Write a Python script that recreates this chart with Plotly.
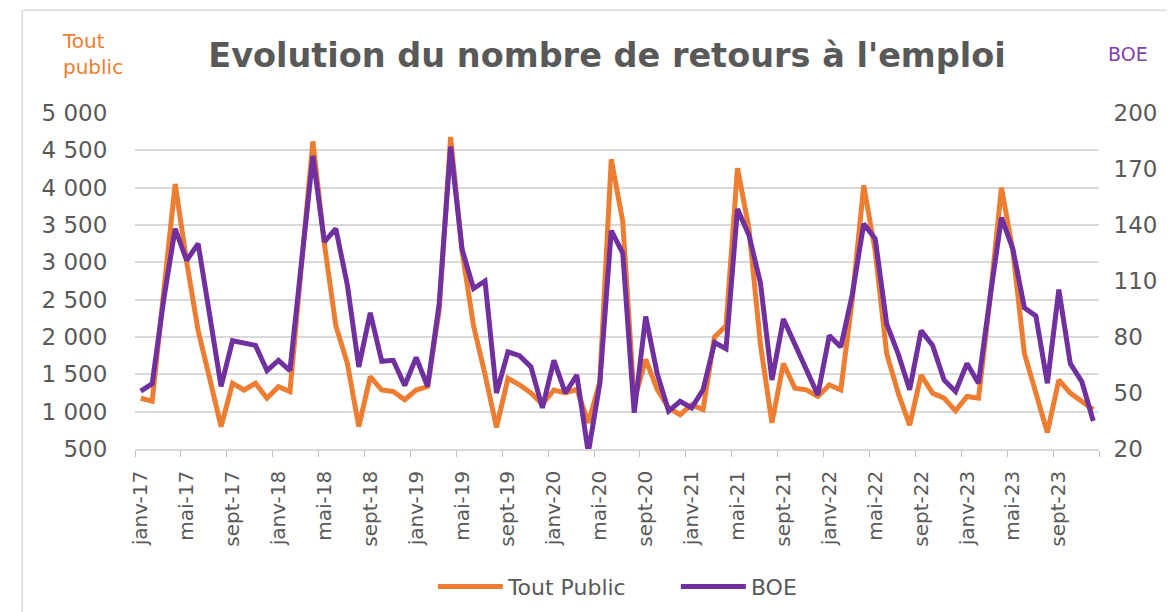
import plotly.graph_objects as go

months = ["janv", "févr", "mars", "avr", "mai", "juin", "juil", "août", "sept", "oct", "nov", "déc"]
years = ["17", "18", "19", "20", "21", "22", "23"]
categories = [f"{m}-{y}" for y in years for m in months]

tout_public = [
    1180, 1140, 2600, 4050, 3010, 2085, 1450, 800, 1380, 1290, 1380, 1180,
    1335, 1270, 2950, 4620, 3250, 2150, 1650, 800, 1470, 1290, 1270, 1160,
    1290, 1335, 2350, 4680, 3150, 2150, 1500, 790, 1447, 1360, 1250, 1100,
    1290, 1250, 1300, 850, 1400, 4380, 3550, 1150, 1700, 1300, 1050, 960,
    1090, 1030, 2000, 2150, 4260, 3450, 1900, 850, 1645, 1315, 1292, 1204,
    1358, 1292, 2500, 4030, 3150, 1780, 1250, 820, 1490, 1248, 1182, 1010,
    1204, 1182, 2500, 4000, 3150, 1780, 1250, 720, 1424, 1248, 1138, 1028,
]

boe = [
    51, 55, 100, 138, 121, 130, 92, 53.5, 78, 77, 75.5, 62,
    67.5, 62, 119, 177, 131, 138, 108, 64, 93, 67, 67.5, 54,
    69, 53.5, 97.5, 182, 127, 106, 110, 50, 72, 70, 64, 42,
    67.5, 50, 59.6, 18, 55, 137, 125, 39.4, 91, 60.5, 40.3, 45.5,
    42, 51.7, 77, 73.7, 148.6, 134.5, 109, 57, 89.6, 76, 62.6, 49,
    80.8, 74.6, 102.8, 140.6, 132.7, 87, 71, 51.7, 83.4, 75.5, 57, 50.8,
    65.8, 55.2, 101, 144, 127, 95.7, 91.3, 55.2, 105.4, 65.8, 56.1, 35,
]

tick_idx = list(range(0, len(categories), 4))
tick_labels = [categories[i] for i in tick_idx]
left_ticks = list(range(500, 5001, 500))
right_ticks = list(range(20, 201, 30))

ORANGE = "#ED7D31"
PURPLE = "#7030A0"
GREY = "#595959"
FONT = "DejaVu Sans"

x = list(range(len(categories)))

fig = go.Figure()
fig.add_trace(go.Scatter(x=x, y=tout_public, name="Tout Public", mode="lines",
                         line=dict(color=ORANGE, width=5), yaxis="y"))
fig.add_trace(go.Scatter(x=x, y=boe, name="BOE", mode="lines",
                         line=dict(color=PURPLE, width=5), yaxis="y2"))

# the page body adds an 8px offset; margins compensate for it
fig.update_layout(
    width=1175, height=612,
    margin=dict(l=127, r=84, t=105, b=167),
    paper_bgcolor="white", plot_bgcolor="white",
    separators=", ",
    font=dict(family=FONT, color=GREY),
    title=dict(text="Evolution du nombre de retours à l'emploi",
               x=0.5098, xanchor="center", y=0.922, yanchor="middle",
               font=dict(family=FONT, size=33.5, color=GREY, weight="bold")),
    xaxis=dict(range=[-0.5, len(categories) - 0.5], tickmode="array",
               tickvals=tick_idx, ticktext=tick_labels, tickangle=-90,
               ticks="outside", ticklen=12, tickcolor="rgba(0,0,0,0)",
               tickfont=dict(size=20, color=GREY),
               showgrid=False, zeroline=False,
               showline=True, linecolor="#D9D9D9", linewidth=1.5,
               minor=dict(ticks="outside", ticklen=6, tickcolor="#BFBFBF",
                          tick0=-0.5, dtick=4, showgrid=False)),
    yaxis=dict(range=[500, 5000], tickmode="array", tickvals=left_ticks,
               tickformat=",", showgrid=True, gridcolor="#D9D9D9", gridwidth=1.5,
               zeroline=False, ticks="outside", ticklen=22,
               tickcolor="rgba(0,0,0,0)", tickfont=dict(size=23, color=GREY)),
    yaxis2=dict(range=[20, 200], tickmode="array", tickvals=right_ticks,
                overlaying="y", side="right", showgrid=False, zeroline=False,
                ticks="outside", ticklen=9, tickcolor="rgba(0,0,0,0)",
                tickfont=dict(size=23, color=GREY)),
    showlegend=True,
    legend=dict(orientation="h", x=0.309, xanchor="left", y=-0.41,
                yanchor="middle", font=dict(size=22, color=GREY),
                entrywidth=163, entrywidthmode="pixels", itemwidth=65,
                bgcolor="rgba(0,0,0,0)"),
    annotations=[
        dict(text="Tout<br>public", xref="paper", yref="paper",
             x=-0.0446, y=1.175, xanchor="center", yanchor="middle",
             showarrow=False, align="left",
             font=dict(family=FONT, size=20, color=ORANGE)),
        dict(text="BOE", xref="paper", yref="paper",
             x=1.030, y=1.175, xanchor="center", yanchor="middle",
             showarrow=False, font=dict(family=FONT, size=19, color="#8040B0")),
    ],
    shapes=[
        dict(type="line", xref="paper", yref="paper", x0=-0.117, x1=1.2,
             y0=1.306, y1=1.306, line=dict(color="#D9D9D9", width=1.5)),
        dict(type="line", xref="paper", yref="paper", x0=-0.117, x1=-0.117,
             y0=1.306, y1=-0.6, line=dict(color="#D9D9D9", width=1.5)),
    ],
)

fig.write_html("out.html")
